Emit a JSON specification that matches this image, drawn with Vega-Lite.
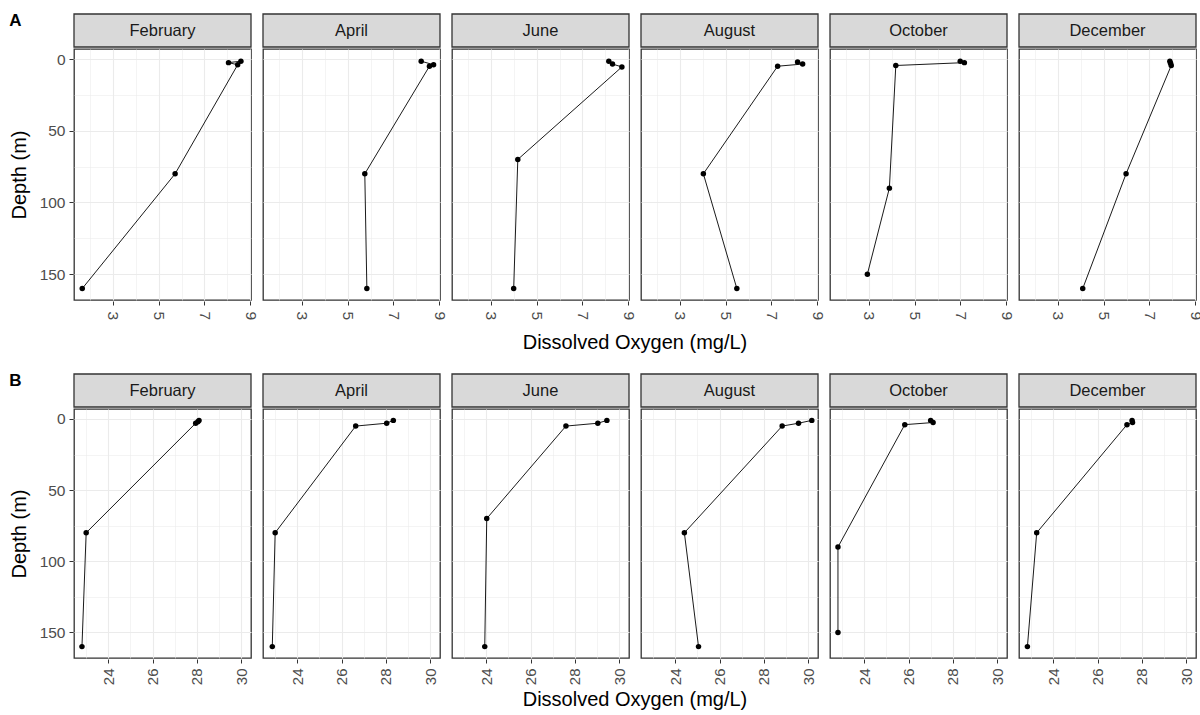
{
  "$schema": "https://vega.github.io/schema/vega-lite/v6.json",
  "padding": {"left": 9, "top": 12, "right": 0, "bottom": 0},
  "background": "white",
  "datasets": {
    "months": [
      {"month": "February"}, {"month": "April"}, {"month": "June"},
      {"month": "August"}, {"month": "October"}, {"month": "December"}
    ],
    "top": [
      {"month": "February", "depth": 1.5, "do": 8.59},
      {"month": "February", "depth": 2.5, "do": 8.05},
      {"month": "February", "depth": 4, "do": 8.45},
      {"month": "February", "depth": 80, "do": 5.72},
      {"month": "February", "depth": 160, "do": 1.67},
      {"month": "April", "depth": 1.5, "do": 8.21},
      {"month": "April", "depth": 4, "do": 8.75},
      {"month": "April", "depth": 5, "do": 8.57},
      {"month": "April", "depth": 80, "do": 5.75},
      {"month": "April", "depth": 160, "do": 5.84},
      {"month": "June", "depth": 1.5, "do": 8.15},
      {"month": "June", "depth": 3.5, "do": 8.31},
      {"month": "June", "depth": 5.5, "do": 8.72},
      {"month": "June", "depth": 70, "do": 4.18},
      {"month": "June", "depth": 160, "do": 4.0},
      {"month": "August", "depth": 2, "do": 8.14},
      {"month": "August", "depth": 3.5, "do": 8.36},
      {"month": "August", "depth": 5, "do": 7.27},
      {"month": "August", "depth": 80, "do": 4.03},
      {"month": "August", "depth": 160, "do": 5.49},
      {"month": "October", "depth": 1.5, "do": 6.99},
      {"month": "October", "depth": 2.5, "do": 7.17},
      {"month": "October", "depth": 4.5, "do": 4.18},
      {"month": "October", "depth": 90, "do": 3.9},
      {"month": "October", "depth": 150, "do": 2.94},
      {"month": "December", "depth": 1.5, "do": 7.89},
      {"month": "December", "depth": 3, "do": 7.92},
      {"month": "December", "depth": 4.5, "do": 7.95},
      {"month": "December", "depth": 80, "do": 5.98},
      {"month": "December", "depth": 160, "do": 4.09}
    ],
    "bottom": [
      {"month": "February", "depth": 1, "do": 28.1},
      {"month": "February", "depth": 2, "do": 28.05},
      {"month": "February", "depth": 3, "do": 27.95},
      {"month": "February", "depth": 80, "do": 23.0},
      {"month": "February", "depth": 160, "do": 22.81},
      {"month": "April", "depth": 1, "do": 28.34},
      {"month": "April", "depth": 3, "do": 28.04},
      {"month": "April", "depth": 5, "do": 26.64},
      {"month": "April", "depth": 80, "do": 23.0},
      {"month": "April", "depth": 160, "do": 22.87},
      {"month": "June", "depth": 1, "do": 29.45},
      {"month": "June", "depth": 3, "do": 29.04},
      {"month": "June", "depth": 5, "do": 27.6},
      {"month": "June", "depth": 70, "do": 24.02},
      {"month": "June", "depth": 160, "do": 23.93},
      {"month": "August", "depth": 1, "do": 30.17},
      {"month": "August", "depth": 3, "do": 29.57},
      {"month": "August", "depth": 5, "do": 28.83},
      {"month": "August", "depth": 80, "do": 24.41},
      {"month": "August", "depth": 160, "do": 25.05},
      {"month": "October", "depth": 1, "do": 27.0},
      {"month": "October", "depth": 2.5, "do": 27.11},
      {"month": "October", "depth": 4, "do": 25.83},
      {"month": "October", "depth": 90, "do": 22.81},
      {"month": "October", "depth": 150, "do": 22.81},
      {"month": "December", "depth": 1, "do": 27.56},
      {"month": "December", "depth": 2.5, "do": 27.58},
      {"month": "December", "depth": 4, "do": 27.33},
      {"month": "December", "depth": 80, "do": 23.25},
      {"month": "December", "depth": 160, "do": 22.83}
    ]
  },
  "config": {
    "font": "Liberation Sans",
    "view": {"stroke": "#333333", "strokeWidth": 1.3},
    "axis": {
      "domain": false,
      "gridColor": "#ebebeb",
      "tickColor": "#333333",
      "tickSize": 4,
      "labelColor": "#4d4d4d",
      "labelFontSize": 15.5,
      "titleFontSize": 20,
      "titleFontWeight": "normal",
      "titleColor": "#000000"
    },
    "header": {
      "titleFontSize": 20,
      "titleFontWeight": "normal",
      "titleColor": "#000000",
      "titleFont": "Liberation Sans"
    }
  },
  "resolve": {"scale": {"x": "independent", "y": "independent"}},
  "spacing": 19,
  "vconcat": [
    {
      "title": {"text": "A", "anchor": "start", "frame": "bounds", "fontSize": 17, "fontWeight": "bold", "color": "#000000", "offset": -17},
      "spacing": 0,
      "vconcat": [
        {
          "data": {"name": "months"},
          "facet": {"column": {"field": "month", "type": "nominal", "sort": ["February", "April", "June", "August", "October", "December"], "header": {"labels": false, "title": null}}},
          "spacing": 10,
          "spec": {
            "width": 177,
            "height": 33,
            "layer": [
              {"mark": {"type": "rect", "fill": "#d9d9d9", "stroke": "#333333", "strokeWidth": 1.3}},
              {"mark": {"type": "text", "fontSize": 16.5, "color": "#1a1a1a"}, "encoding": {"text": {"field": "month", "type": "nominal"}}}
            ]
          }
        },
        {
          "data": {"name": "top"},
          "facet": {"column": {"field": "month", "type": "nominal", "title": "Dissolved Oxygen (mg/L)", "sort": ["February", "April", "June", "August", "October", "December"], "header": {"labels": false, "titleOrient": "bottom", "titlePadding": 3}}},
          "spacing": 10,
          "spec": {
            "width": 177,
            "height": 251,
            "encoding": {
              "x": {
                "field": "do", "type": "quantitative",
                "scale": {"domain": [1.31, 9.03], "nice": false, "zero": false},
                "axis": {
                  "title": null,
                  "values": [2, 3, 4, 5, 6, 7, 8, 9],
                  "labelExpr": "datum.value % 2 == 1 ? datum.label : ''",
                  "labelAngle": 90,
                  "labelPadding": 6,
                  "tickOpacity": {"condition": {"test": "datum.value % 2 == 1", "value": 1}, "value": 0},
                  "gridWidth": {"condition": {"test": "datum.value % 2 == 1", "value": 1.1}, "value": 0.55}
                }
              },
              "y": {
                "field": "depth", "type": "quantitative",
                "scale": {"domain": [-7, 168], "reverse": true, "nice": false, "zero": false},
                "axis": {
                  "title": "Depth (m)",
                  "titlePadding": 10,
                  "values": [0, 25, 50, 75, 100, 125, 150],
                  "labelExpr": "datum.value % 50 == 0 ? datum.label : ''",
                  "labelPadding": 4,
                  "tickOpacity": {"condition": {"test": "datum.value % 50 == 0", "value": 1}, "value": 0},
                  "gridWidth": {"condition": {"test": "datum.value % 50 == 0", "value": 1.1}, "value": 0.55}
                }
              }
            },
            "layer": [
              {"mark": {"type": "line", "color": "#000000", "strokeWidth": 0.9}, "encoding": {"order": {"field": "depth", "type": "quantitative"}}},
              {"mark": {"type": "circle", "color": "#000000", "size": 30, "opacity": 1}}
            ]
          }
        }
      ]
    },
    {
      "title": {"text": "B", "anchor": "start", "frame": "bounds", "fontSize": 17, "fontWeight": "bold", "color": "#000000", "offset": -17},
      "spacing": 0,
      "vconcat": [
        {
          "data": {"name": "months"},
          "facet": {"column": {"field": "month", "type": "nominal", "sort": ["February", "April", "June", "August", "October", "December"], "header": {"labels": false, "title": null}}},
          "spacing": 10,
          "spec": {
            "width": 177,
            "height": 33,
            "layer": [
              {"mark": {"type": "rect", "fill": "#d9d9d9", "stroke": "#333333", "strokeWidth": 1.3}},
              {"mark": {"type": "text", "fontSize": 16.5, "color": "#1a1a1a"}, "encoding": {"text": {"field": "month", "type": "nominal"}}}
            ]
          }
        },
        {
          "data": {"name": "bottom"},
          "facet": {"column": {"field": "month", "type": "nominal", "title": "Dissolved Oxygen (mg/L)", "sort": ["February", "April", "June", "August", "October", "December"], "header": {"labels": false, "titleOrient": "bottom", "titlePadding": -5}}},
          "spacing": 10,
          "spec": {
            "width": 177,
            "height": 249,
            "encoding": {
              "x": {
                "field": "do", "type": "quantitative",
                "scale": {"domain": [22.45, 30.45], "nice": false, "zero": false},
                "axis": {
                  "title": null,
                  "values": [23, 24, 25, 26, 27, 28, 29, 30],
                  "labelExpr": "datum.value % 2 == 0 ? datum.label : ''",
                  "labelAngle": -90,
                  "labelFontSize": 15,
                  "labelPadding": 5,
                  "tickOpacity": {"condition": {"test": "datum.value % 2 == 0", "value": 1}, "value": 0},
                  "gridWidth": {"condition": {"test": "datum.value % 2 == 0", "value": 1.1}, "value": 0.55}
                }
              },
              "y": {
                "field": "depth", "type": "quantitative",
                "scale": {"domain": [-7, 168], "reverse": true, "nice": false, "zero": false},
                "axis": {
                  "title": "Depth (m)",
                  "titlePadding": 10,
                  "values": [0, 25, 50, 75, 100, 125, 150],
                  "labelExpr": "datum.value % 50 == 0 ? datum.label : ''",
                  "labelPadding": 4,
                  "tickOpacity": {"condition": {"test": "datum.value % 50 == 0", "value": 1}, "value": 0},
                  "gridWidth": {"condition": {"test": "datum.value % 50 == 0", "value": 1.1}, "value": 0.55}
                }
              }
            },
            "layer": [
              {"mark": {"type": "line", "color": "#000000", "strokeWidth": 0.9}, "encoding": {"order": {"field": "depth", "type": "quantitative"}}},
              {"mark": {"type": "circle", "color": "#000000", "size": 30, "opacity": 1}}
            ]
          }
        }
      ]
    }
  ]
}
